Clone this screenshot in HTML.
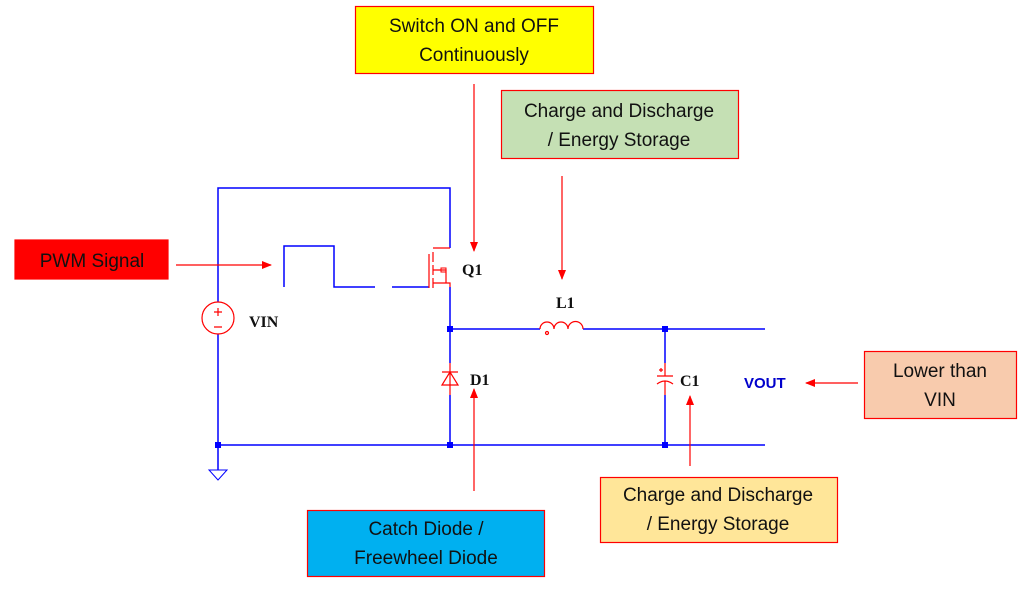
<!DOCTYPE html>
<html><head><meta charset="utf-8"><style>
html,body{margin:0;padding:0;background:#fff;}
svg{display:block;}
.bx{font-family:"Liberation Sans",sans-serif;font-size:19px;fill:#111;text-anchor:middle;}
.lb{font-family:"Liberation Serif",serif;font-size:16px;font-weight:bold;fill:#111;}
</style></head><body>
<svg width="1026" height="589" viewBox="0 0 1026 589" xmlns="http://www.w3.org/2000/svg">
<defs>
<marker id="ah" markerWidth="10" markerHeight="8" refX="9" refY="4" orient="auto" markerUnits="userSpaceOnUse">
<path d="M0,0 L10,4 L0,8 z" fill="#f00"/></marker>
</defs>
<g stroke="#00f" stroke-width="1.5" fill="none">
<path d="M218,302 V188 H450 V248"/>
<path d="M218,334 V470"/>
<path d="M450,287 V363 M450,395 V445"/>
<path d="M218,445 H765"/>
<path d="M450,329 H540 M583,329 H765"/>
<path d="M665,329 V363 M665,395 V445"/>
<path d="M284,287 V246 H334 V287 H375 M392,287 H429"/>
<path d="M209,470 H227 L218,480 Z" stroke-width="1"/>
</g>
<g fill="#00f">
<rect x="447" y="326" width="6" height="6"/><rect x="662" y="326" width="6" height="6"/>
<rect x="215" y="442" width="6" height="6"/><rect x="447" y="442" width="6" height="6"/><rect x="662" y="442" width="6" height="6"/>
</g>
<g stroke="#f00" stroke-width="1.2" fill="none">
<circle cx="218" cy="318" r="16"/>
<path d="M214,312 H222 M218,308 V316 M214,327 H222"/>
<path d="M429,254 V288 M433,252 V262 M433,265 V275 M433,278 V288"/>
<path d="M433,248 H450 M433,270 H446 V283 M433,283 H450 V287"/>
<rect x="441" y="268" width="5" height="4" stroke-width="1"/>
<path d="M540,329 a7,7 0 0 1 14,0 a7,7 0 0 1 14,0 a7,7 0 0 1 15,0"/>
<circle cx="547" cy="333" r="1.5"/>
<path d="M450,363 V395 M442,372 H458 M450,372 L442,385 H458 Z"/>
<path d="M665,363 V376 M657,376 H673 M657,384 Q665,378 673,384 M665,381 V395 M659,370 H663 M661,368 V372"/>
</g>
<text class="lb" x="462" y="275">Q1</text>
<text class="lb" x="249" y="327">VIN</text>
<text class="lb" x="556" y="308">L1</text>
<text class="lb" x="470" y="385">D1</text>
<text class="lb" x="680" y="386">C1</text>
<text class="lb" x="744" y="388" style="fill:#00c;font-family:'Liberation Sans',sans-serif;font-size:15px">VOUT</text>
<g stroke="#f00" stroke-width="1.2" marker-end="url(#ah)">
<line x1="474" y1="84" x2="474" y2="251"/>
<line x1="562" y1="176" x2="562" y2="279"/>
<line x1="176" y1="265" x2="271" y2="265"/>
<line x1="474" y1="491" x2="474" y2="389"/>
<line x1="690" y1="466" x2="690" y2="396"/>
<line x1="858" y1="383" x2="806" y2="383"/>
</g>
<g stroke="#f00" stroke-width="1.2">
<rect x="355.5" y="6.5" width="238" height="67" fill="#ffff00"/>
<rect x="501.5" y="90.5" width="237" height="68" fill="#c5e0b4"/>
<rect x="15" y="240" width="153" height="39" fill="#ff0000"/>
<rect x="864.5" y="351.5" width="152" height="67" fill="#f8cbad"/>
<rect x="600.5" y="477.5" width="237" height="65" fill="#ffe699"/>
<rect x="307.5" y="510.5" width="237" height="66" fill="#00b0f0"/>
</g>
<text class="bx" x="474" y="32">Switch ON and OFF</text>
<text class="bx" x="474" y="61">Continuously</text>
<text class="bx" x="619" y="117">Charge and Discharge</text>
<text class="bx" x="619" y="146">/ Energy Storage</text>
<text class="bx" x="92" y="267">PWM Signal</text>
<text class="bx" x="940" y="377">Lower than</text>
<text class="bx" x="940" y="406">VIN</text>
<text class="bx" x="718" y="501">Charge and Discharge</text>
<text class="bx" x="718" y="530">/ Energy Storage</text>
<text class="bx" x="426" y="535">Catch Diode /</text>
<text class="bx" x="426" y="564">Freewheel Diode</text>
</svg>
</body></html>
